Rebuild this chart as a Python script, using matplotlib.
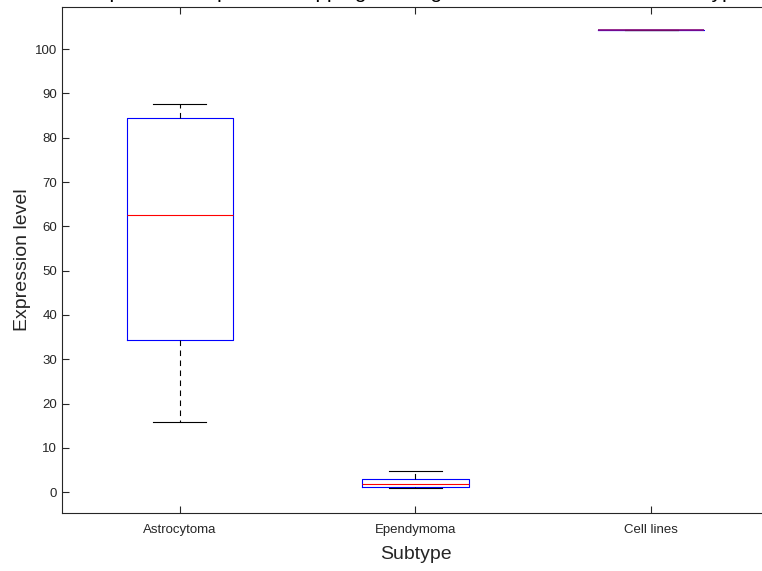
import matplotlib
matplotlib.use('Agg')
import matplotlib.pyplot as plt

plt.rcParams['font.family'] = ['Liberation Sans', 'DejaVu Sans']

subtypes = ['Astrocytoma', 'Ependymoma', 'Cell lines']
whislo = [15.8, 0.9, 104.4]
q1 = [34.4, 1.1, 104.4]
medians = [62.6, 1.8, 104.4]
q3 = [84.4, 2.9, 104.4]
whishi = [87.7, 4.8, 104.4]

stats = []
for i, name in enumerate(subtypes):
    stats.append({'label': name, 'whislo': whislo[i], 'q1': q1[i], 'med': medians[i],
                  'q3': q3[i], 'whishi': whishi[i], 'fliers': []})

fig = plt.figure(figsize=(7.62, 5.71), dpi=100)
ax = fig.add_axes([62/762, 58/571, 707/762, 506/571])

bp = ax.bxp(stats, positions=[1, 2, 3], widths=0.45, showfliers=False,
            boxprops=dict(color='blue', linewidth=0.8),
            medianprops=dict(color='red', linewidth=0.8),
            whiskerprops=dict(color='black', linewidth=0.8, linestyle=(0, (5, 4))),
            capprops=dict(color='black', linewidth=0.8), capwidths=0.225)
# box and median coincide for the cell lines -> blended purple
bp['medians'][2].set_color('#8a0c7c')
bp['medians'][2].set_linewidth(1.2)

ax.set_xlim(0.5, 3.5)
ax.set_ylim(-4.7, 109.5)
ax.set_yticks(range(0, 101, 10))
ax.tick_params(direction='in', top=True, right=True, length=5, labelsize=9.5,
               colors='#262626', width=0.8)
ax.tick_params(axis='x', pad=8)
for s in ax.spines.values():
    s.set_color('#262626')
    s.set_linewidth(0.8)

ax.set_xlabel('Subtype', fontsize=14, color='#262626', labelpad=7)
ax.set_ylabel('Expression level', fontsize=14, color='#262626', labelpad=3)

# title sits mostly above the visible area, as in the original crop
fig.text(415/762, 1.0 + 2/571, 'Expression of probes mapping to the gene across each tumour subtype',
         ha='center', va='baseline', fontsize=15)

fig.savefig('out.png', dpi=100)
